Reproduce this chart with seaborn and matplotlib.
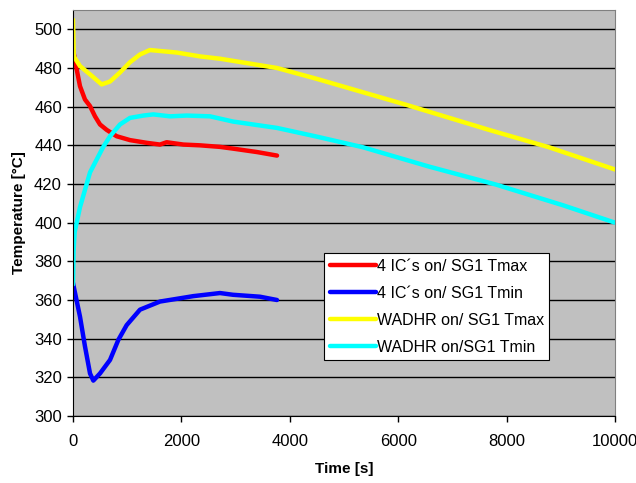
import numpy as np
import pandas as pd
import matplotlib
matplotlib.use('Agg')
import matplotlib.pyplot as plt
import seaborn as sns

# 4 IC's on / SG1 Tmax
ic_tmax_t = [0, 68, 129, 221, 314, 406, 498, 621, 806, 1052, 1360, 1605, 1728, 2035, 2343, 2712, 2952, 3400, 3764]
ic_tmax_T = [489.6, 479.3, 470.6, 463.7, 460.3, 455, 450.8, 448, 444.7, 442.7, 441.3, 440.4, 441.6, 440.4, 440, 439.2, 438.3, 436.5, 434.7]
# 4 IC's on / SG1 Tmin
ic_tmin_t = [0, 20, 129, 221, 314, 375, 498, 683, 837, 990, 1236, 1605, 2220, 2712, 2952, 3450, 3764]
ic_tmin_T = [368.8, 366, 351.4, 336, 322, 318.3, 322, 329, 339.4, 347, 355, 359.2, 362, 363.6, 362.7, 361.7, 360]
# WADHR on / SG1 Tmax
wa_tmax_t = [0, 15, 129, 314, 529, 683, 867, 1052, 1236, 1420, 1605, 1913, 2343, 2712, 3764, 4483, 6144, 7675, 8782, 10000]
wa_tmax_T = [505, 486, 481, 476.7, 471.5, 473, 477.7, 483, 487, 489.3, 488.8, 488, 486, 484.8, 480, 474.5, 461, 448, 439, 427.5]
# WADHR on / SG1 Tmin
wa_tmin_t = [0, 10, 30, 129, 314, 436, 554, 683, 867, 1052, 1298, 1482, 1790, 2097, 2528, 2952, 3764, 4483, 5350, 6570, 7804, 9040, 10000]
wa_tmin_T = [368, 385, 395, 408, 426, 432.6, 439, 444.7, 450.8, 454.2, 455.4, 456, 455, 455.4, 455, 452.3, 449, 444.6, 439, 429, 419.7, 409, 400]

labels = ['4 IC´s on/ SG1 Tmax', '4 IC´s on/ SG1 Tmin', 'WADHR on/ SG1 Tmax', 'WADHR on/SG1 Tmin']
colors = ['#FF0000', '#0000FF', '#FFFF00', '#00FFFF']

series = [(ic_tmax_t, ic_tmax_T), (ic_tmin_t, ic_tmin_T), (wa_tmax_t, wa_tmax_T), (wa_tmin_t, wa_tmin_T)]
df = pd.concat([pd.DataFrame({'Time': t, 'Temp': T, 'series': lab})
                for (t, T), lab in zip(series, labels)], ignore_index=True)

sns.set_style('white')
plt.rcParams['font.family'] = ['Liberation Sans', 'DejaVu Sans']
plt.rcParams['text.color'] = 'black'
plt.rcParams['xtick.color'] = 'black'
plt.rcParams['ytick.color'] = 'black'
plt.rcParams['axes.labelcolor'] = 'black'

fig = plt.figure(figsize=(6.36, 4.83), dpi=100)
ax = fig.add_axes([73/636, 1 - 416/483, (615 - 73)/636, (416 - 10)/483])
ax.set_facecolor('#C0C0C0')

sns.lineplot(data=df, x='Time', y='Temp', hue='series', palette=colors,
             hue_order=labels, sort=False, estimator=None, linewidth=3.2, ax=ax)
for ln in ax.lines:
    ln.set_solid_joinstyle('round')
    ln.set_solid_capstyle('round')

ax.set_xlim(0, 10000)
ax.set_ylim(300, 510)
ax.set_xticks(np.arange(0, 10001, 2000))
ax.set_yticks(np.arange(300, 501, 20))
ax.yaxis.grid(True, color='black', linewidth=1)
ax.set_axisbelow(True)
for s in ['top', 'right']:
    ax.spines[s].set_color('#808080')
for s in ['left', 'bottom']:
    ax.spines[s].set_color('black')
ax.tick_params(axis='both', direction='out', length=4, width=1, color='black',
               labelsize=12, bottom=True, left=True)
ax.tick_params(axis='x', pad=9)
ax.tick_params(axis='y', pad=4)
ax.set_xlabel('Time [s]', fontsize=11, fontweight='bold', labelpad=9)
ax.set_ylabel('Temperature [°C]', fontsize=11, fontweight='bold', labelpad=6)

leg = ax.legend(loc='upper left', bbox_to_anchor=(324/636, 1 - 253/483),
                bbox_transform=fig.transFigure, fontsize=11.5, frameon=True,
                fancybox=False, edgecolor='black', framealpha=1,
                handlelength=2.9, handletextpad=0.05, borderpad=0.35, labelspacing=0.75,
                borderaxespad=0)
leg.get_frame().set_linewidth(0.8)

fig.savefig('out.png', dpi=100)
